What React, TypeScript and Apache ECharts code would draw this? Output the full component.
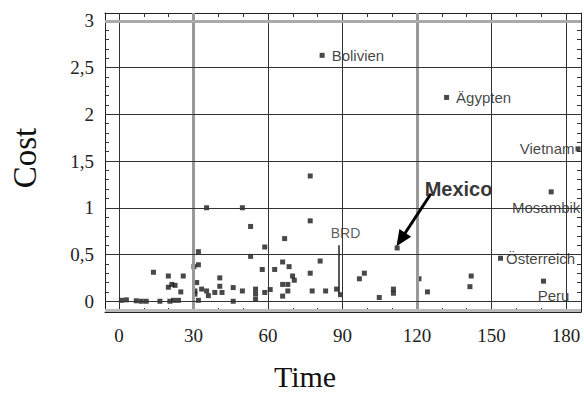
import React, { useEffect, useRef } from "react";
import * as echarts from "echarts";

// Tick labels
const xTickValues = [0, 30, 60, 90, 120, 150, 180];
const xTickLabels = ["0", "30", "60", "90", "120", "150", "180"];
const yTickValues = [0, 0.5, 1, 1.5, 2, 2.5, 3];
const yTickLabels = ["0", "0,5", "1", "1,5", "2", "2,5", "3"];

// Unlabelled countries (Time, Cost)
const pointX = [
  1, 3, 7, 9, 11, 16.5, 20.5, 22, 24,
  13.9, 19.9, 25.9, 19.9, 21.3, 22.6, 24.9,
  32, 30.2, 32, 31.3, 30.6, 30.6, 32, 33.3, 35.3, 36, 38.6, 40.6, 40.6, 41.5,
  35.3, 49.7, 53, 46, 46, 49.7, 53, 55, 55, 55,
  57.7, 58.7, 58.7, 60.9, 62.7, 65.9, 66.7, 65.9, 65.9, 68.5, 68, 68, 69.9, 70.6,
  77, 77, 77, 77.8, 81, 83.2, 87.6,
  96.8, 98.8, 104.8, 110.5, 110.5, 120.8, 124.2, 141.8, 141.3,
];
const pointY = [
  0.01, 0.015, 0.005, 0, 0, 0, 0, 0.01, 0.01,
  0.31, 0.27, 0.27, 0.15, 0.18, 0.17, 0.1,
  0.53, 0.37, 0.39, 0.2, 0.11, 0.076, 0.01, 0.13, 0.11, 0.06, 0.094, 0.25, 0.16, 0.094,
  1.0, 1.0, 0.8, 0.146, 0.0, 0.11, 0.48, 0.13, 0.08, 0.024,
  0.34, 0.58, 0.094, 0.125, 0.34, 0.42, 0.67, 0.18, 0.055, 0.37, 0.18, 0.11, 0.27, 0.225,
  1.34, 0.86, 0.3, 0.11, 0.43, 0.11, 0.13,
  0.24, 0.3, 0.04, 0.13, 0.086, 0.24, 0.1, 0.27, 0.156,
];

// Labelled countries
const labelNames = ["Bolivien", "Ägypten", "Vietnam", "Mosambik", "Mexico", "Österreich", "Peru", "BRD"];
const labelX = [81.8, 131.9, 184.8, 174, 112, 153.6, 170.9, 89.2];
const labelY = [2.63, 2.18, 1.63, 1.17, 0.57, 0.46, 0.215, 0.07];

// Annotation arrow (Mexico) and BRD leader line, in data units
const mexicoArrow = [[125.6, 1.15], [113.5, 0.66]];
const brdLeader = [[88.6, 0.6], [88.6, 0.08]];

const labelLayout: Record<string, any> = {
  Bolivien: { position: "right", distance: 7 },
  "Ägypten": { position: "right", distance: 7 },
  Vietnam: { position: "left", distance: 1 },
  Mosambik: { position: "bottom", distance: 6, offset: [-5, 0] },
  Mexico: { position: "right", distance: 0, offset: [25, -59], fontWeight: "bold", fontSize: 20, color: "#000" },
  "Österreich": { position: "right", distance: 3 },
  Peru: { position: "bottom", distance: 4, offset: [10, 0] },
  BRD: { position: "top", distance: 52, offset: [5, 0], fontSize: 14, color: "#333" },
};

const serif = "Liberation Serif";
const sans = "Liberation Sans";

export default function App() {
  const ref = useRef<HTMLDivElement>(null);
  useEffect(() => {
    document.body.style.margin = "0";
    if (!ref.current) return;
    const chart = echarts.init(ref.current, undefined, { renderer: "svg" });

    const minorX: number[] = [];
    for (let v = 0; v <= 180; v += 10) minorX.push(v);
    const minorY: number[] = [];
    for (let i = -1; i <= 30; i++) minorY.push(Math.round(i * 10) / 100);

    const xMin = -5.6, xMax = 186, yMin = -0.115, yMax = 3.083;
    const frameLine = { show: true, onZero: false, lineStyle: { color: "#222", width: 1 } };

    const xAxisBase = (pos: string, labels: boolean) => ({
      type: "value",
      min: xMin,
      max: xMax,
      position: pos,
      axisLine: frameLine,
      axisTick: { show: true, inside: true, length: 4, customValues: minorX, lineStyle: { color: "#333" } },
      axisLabel: labels
        ? {
            show: true,
            customValues: xTickValues,
            formatter: (v: number) => xTickLabels[xTickValues.indexOf(v)] ?? "",
            fontFamily: serif,
            fontSize: 19,
            color: "#222",
            margin: 14,
          }
        : { show: false },
      splitLine: { show: false },
    });
    const yAxisBase = (pos: string, labels: boolean) => ({
      type: "value",
      min: yMin,
      max: yMax,
      position: pos,
      axisLine: frameLine,
      axisTick: { show: true, inside: true, length: 4, customValues: minorY, lineStyle: { color: "#333" } },
      axisLabel: labels
        ? {
            show: true,
            customValues: yTickValues,
            formatter: (v: number) => yTickLabels[yTickValues.indexOf(v)] ?? "",
            fontFamily: serif,
            fontSize: 19,
            color: "#222",
            margin: 11,
          }
        : { show: false },
      splitLine: { show: false },
    });

    const thin = { color: "#333", width: 1, type: "solid" };
    const thick = { color: "#999", width: 3, type: "solid" };
    const gridLines: any[] = [];
    xTickValues.forEach((v) =>
      gridLines.push({ xAxis: v, lineStyle: v === 30 || v === 120 ? thick : thin })
    );
    yTickValues.forEach((v) =>
      gridLines.push({ yAxis: v, lineStyle: v === 3 ? { color: "#aaa", width: 3, type: "solid" } : thin })
    );
    gridLines.push({ yAxis: -0.1, lineStyle: { color: "#bbb", width: 3, type: "solid" } });
    gridLines.push([
      { coord: brdLeader[0], lineStyle: { color: "#222", width: 1.5, type: "solid" } },
      { coord: brdLeader[1] },
    ]);

    const labelled = labelNames.map((n, i) => {
      const l = labelLayout[n] || {};
      return {
        name: n,
        value: [labelX[i], labelY[i]],
        label: {
          show: true,
          formatter: n,
          fontFamily: sans,
          fontSize: 15,
          color: "#111",
          ...l,
        },
      };
    });

    chart.setOption({
      animation: false,
      grid: { left: 103, right: 3, top: 13, bottom: 76, containLabel: false },
      xAxis: [
        { ...xAxisBase("bottom", true), name: "Time", nameLocation: "middle", nameGap: 49,
          nameMoveOverlap: false,
          nameTextStyle: { fontFamily: serif, fontSize: 30, color: "#111", padding: [0, 76, 0, 0] } },
        xAxisBase("top", false),
      ],
      yAxis: [
        { ...yAxisBase("left", true), name: "Cost", nameLocation: "middle", nameGap: 64,
          nameMoveOverlap: false,
          nameTextStyle: { fontFamily: serif, fontSize: 33, color: "#111", padding: [0, 0, 0, 9] } },
        yAxisBase("right", false),
      ],
      series: [
        {
          type: "scatter",
          clip: false,
          symbol: "rect",
          symbolSize: 5,
          itemStyle: { color: "#1a1a1a" },
          data: pointX.map((x, i) => [x, pointY[i]]),
          markLine: {
            silent: true,
            symbol: ["none", "none"],
            label: { show: false },
            data: gridLines,
          },
          z: 3,
        },
        {
          type: "scatter",
          clip: false,
          symbol: "rect",
          symbolSize: 5,
          itemStyle: { color: "#1a1a1a" },
          data: labelled,
          markLine: {
            silent: true,
            symbol: ["none", "triangle"],
            symbolSize: [14, 16],
            label: { show: false },
            lineStyle: { color: "#000", width: 3, type: "solid" },
            data: [[{ coord: mexicoArrow[0] }, { coord: mexicoArrow[1] }]],
          },
          z: 4,
        },
      ],
    });
    return () => chart.dispose();
  }, []);
  return <div ref={ref} style={{ width: 584, height: 396 }} />;
}
